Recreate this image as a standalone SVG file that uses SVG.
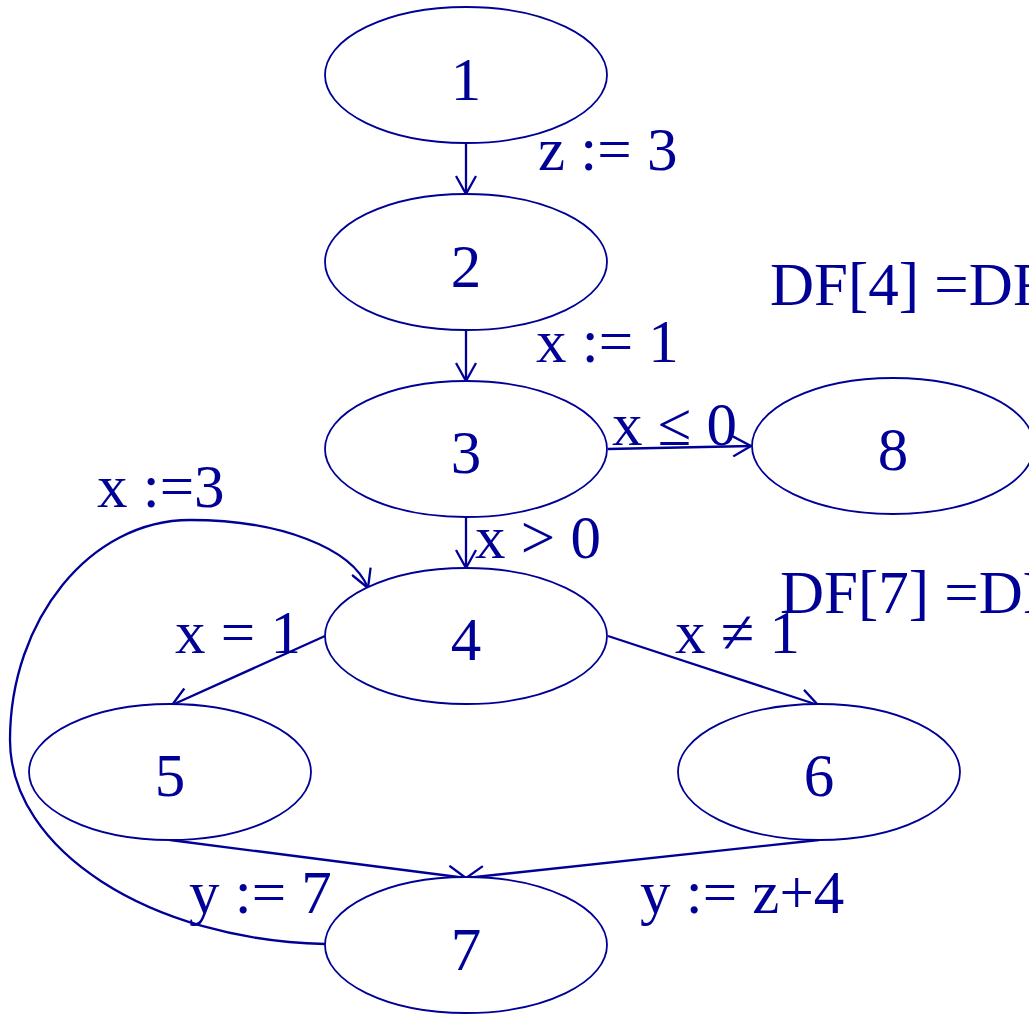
<svg xmlns="http://www.w3.org/2000/svg" width="1029" height="1014" viewBox="0 0 1029 1014">
<defs>
<style>
.n{fill:#fff;stroke:#000096;stroke-width:1.8}
.e{fill:none;stroke:#000096;stroke-width:2.3}
text{font-family:"Liberation Serif","Times New Roman",serif;font-size:61px;fill:#000096}
.c{text-anchor:middle}
</style>
<marker id="a" viewBox="0 0 20 22" refX="19" refY="11" markerWidth="20" markerHeight="22" markerUnits="userSpaceOnUse" orient="auto">
<path d="M1,1 L19,11 L1,21" fill="none" stroke="#000096" stroke-width="2.3"/>
</marker>
</defs>
<rect width="1029" height="1014" fill="#fff"/>
<g id="edges">
<line class="e" x1="466" y1="143" x2="466" y2="194" marker-end="url(#a)"/>
<line class="e" x1="466" y1="330" x2="466" y2="381" marker-end="url(#a)"/>
<line class="e" x1="466" y1="517" x2="466" y2="568" marker-end="url(#a)"/>
<line class="e" x1="608" y1="449" x2="751" y2="446" marker-end="url(#a)"/>
<line class="e" x1="325" y1="636" x2="172" y2="705" marker-end="url(#a)"/>
<line class="e" x1="608" y1="636" x2="818" y2="705" marker-end="url(#a)"/>
<line class="e" x1="170" y1="840" x2="466" y2="878" marker-end="url(#a)"/>
<line class="e" x1="819" y1="840" x2="466" y2="878" marker-end="url(#a)"/>
<path class="e" d="M325,944 C150,940 10,850 10,740 C10,620 90,520 190,520 C280,520 352,548 368,588" marker-end="url(#a)"/>
</g>
<g id="n1"><ellipse class="n" cx="466" cy="75" rx="141" ry="68"/><text class="c" x="466" y="100">1</text></g>
<g id="n2"><ellipse class="n" cx="466" cy="262" rx="141" ry="68"/><text class="c" x="466" y="287">2</text></g>
<g id="n3"><ellipse class="n" cx="466" cy="449" rx="141" ry="68"/><text class="c" x="466" y="473">3</text></g>
<g id="n4"><ellipse class="n" cx="466" cy="636" rx="141" ry="68"/><text class="c" x="466" y="660">4</text></g>
<g id="n5"><ellipse class="n" cx="170" cy="772" rx="141" ry="68"/><text class="c" x="170" y="796">5</text></g>
<g id="n6"><ellipse class="n" cx="819" cy="772" rx="141" ry="68"/><text class="c" x="819" y="796">6</text></g>
<g id="n7"><ellipse class="n" cx="466" cy="945" rx="141" ry="68"/><text class="c" x="466" y="970">7</text></g>
<g id="n8"><ellipse class="n" cx="893" cy="446" rx="141" ry="68"/><text class="c" x="893" y="470">8</text></g>
<g id="labels">
<text x="538" y="170">z := 3</text>
<text x="536" y="362">x := 1</text>
<text x="612" y="445">x ≤ 0</text>
<text x="475" y="558">x &gt; 0</text>
<text x="97" y="507">x :=3</text>
<text x="175" y="653">x = 1</text>
<text x="675" y="653">x ≠ 1</text>
<text x="189" y="913">y := 7</text>
<text x="640" y="913">y := z+4</text>
<text x="770" y="305">DF[4] =DF</text>
<text x="780" y="613">DF[7] =DF</text>
</g>
</svg>
